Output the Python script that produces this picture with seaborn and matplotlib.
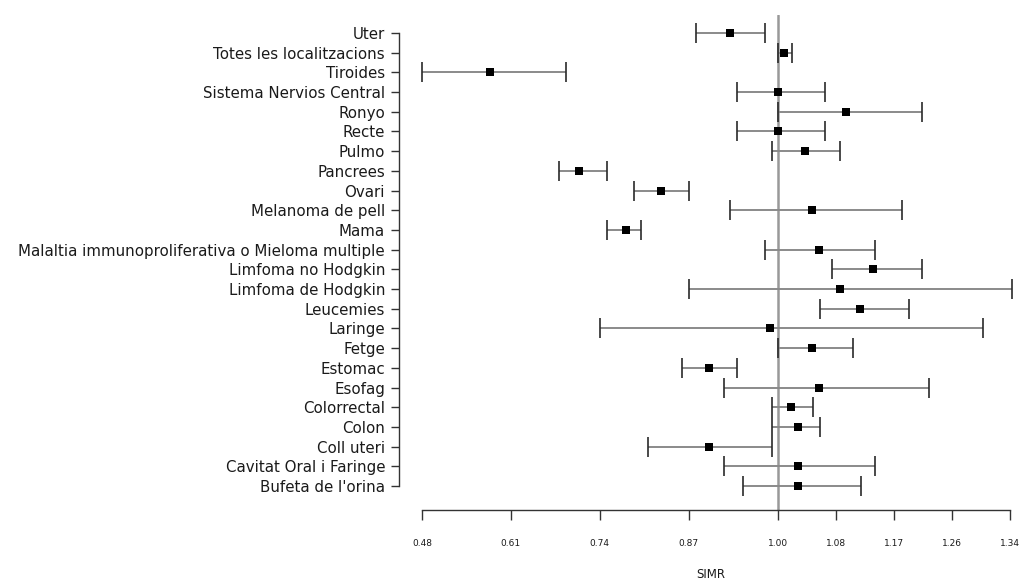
import matplotlib
matplotlib.use("Agg")
import matplotlib.pyplot as plt
import seaborn as sns
import pandas as pd

# dades del grafic (de dalt a baix)
localitzacions = [
    "Uter", "Totes les localitzacions", "Tiroides", "Sistema Nervios Central",
    "Ronyo", "Recte", "Pulmo", "Pancrees", "Ovari", "Melanoma de pell", "Mama",
    "Malaltia immunoproliferativa o Mieloma multiple", "Limfoma no Hodgkin",
    "Limfoma de Hodgkin", "Leucemies", "Laringe", "Fetge", "Estomac", "Esofag",
    "Colorrectal", "Colon", "Coll uteri", "Cavitat Oral i Faringe", "Bufeta de l'orina",
]
simr = [0.930, 1.010, 0.580, 1.000, 1.100, 1.000, 1.040, 0.709, 0.830, 1.050, 0.779,
        1.060, 1.140, 1.091, 1.120, 0.989, 1.050, 0.900, 1.060, 1.020, 1.030, 0.900,
        1.030, 1.030]
ic_inf = [0.881, 1.000, 0.480, 0.941, 1.000, 0.941, 0.992, 0.681, 0.790, 0.930, 0.750,
          0.981, 1.080, 0.870, 1.062, 0.740, 1.000, 0.860, 0.922, 0.992, 0.992, 0.810,
          0.922, 0.950]
ic_sup = [0.981, 1.021, 0.691, 1.070, 1.212, 1.070, 1.091, 0.750, 0.870, 1.182, 0.800,
          1.142, 1.212, 1.343, 1.192, 1.301, 1.111, 0.941, 1.221, 1.052, 1.062, 0.992,
          1.142, 1.122]
ticks_x = [0.48, 0.61, 0.74, 0.87, 1.00, 1.085, 1.17, 1.255, 1.34]
labels_x = ["0.48", "0.61", "0.74", "0.87", "1.00", "1.08", "1.17", "1.26", "1.34"]

df = pd.DataFrame({"loc": localitzacions, "simr": simr, "inf": ic_inf, "sup": ic_sup})
df["y"] = len(df) - df.index

sns.set_style("white")
plt.rcParams["font.family"] = ["DejaVu Sans"]

fig = plt.figure(figsize=(10.22, 5.85), dpi=100)
ax = fig.add_axes([399 / 1022, 75 / 585, 623 / 1022, 495 / 585])

# linia de referencia a 1
ax.axvline(1.0, color="#999999", lw=1.8, zorder=1)

# intervals de confianca
eb = ax.errorbar(df["simr"], df["y"], xerr=[df["simr"] - df["inf"], df["sup"] - df["simr"]],
                 fmt="none", ecolor="#8a8a8a", elinewidth=1.4, capsize=7, capthick=1.2, zorder=2)
for cap in eb[1]:
    cap.set_markeredgecolor("#2a2a2a")

sns.scatterplot(data=df, x="simr", y="y", marker="s", s=26, color="black",
                edgecolor="black", linewidth=0, ax=ax, zorder=3)

ax.set_xlim(0.4463, 1.3576)
ax.set_ylim(-0.218, 24.91)

ax.set_yticks(df["y"])
ax.set_yticklabels(df["loc"], fontsize=10.8, color="#1a1a1a")
ax.set_xticks(ticks_x)
ax.set_xticklabels(labels_x, fontsize=6.5, color="#1a1a1a")

for s in ["top", "right"]:
    ax.spines[s].set_visible(False)
ax.spines["left"].set_bounds(1, 24)
ax.spines["bottom"].set_bounds(0.48, 1.34)
for s in ["left", "bottom"]:
    ax.spines[s].set_color("#333333")
    ax.spines[s].set_linewidth(1.0)

ax.tick_params(axis="y", direction="out", length=6, width=1, color="#333333", pad=4, left=True)
ax.tick_params(axis="x", direction="out", length=7, width=1, color="#333333", pad=14, bottom=True)

ax.set_xlabel("SIMR", fontsize=8.5, color="#1a1a1a", labelpad=14)
ax.set_ylabel("")

fig.savefig("out.png", dpi=100)
